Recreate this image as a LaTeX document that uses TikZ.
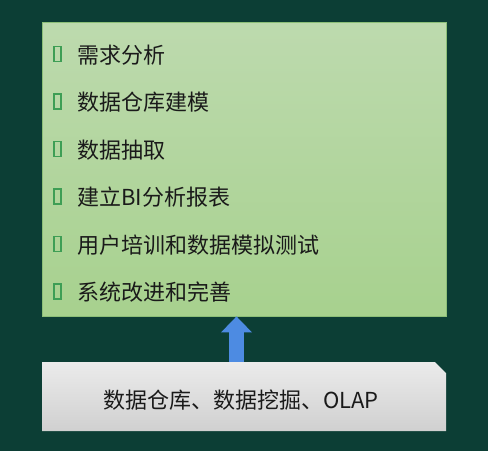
\documentclass[tikz,border=0pt]{standalone}
\usepackage{fontspec}
\setmainfont{Noto Sans CJK SC}
\usetikzlibrary{arrows.meta}
\definecolor{bgdark}{HTML}{0C3E35}
\definecolor{greentop}{HTML}{BDDAAE}
\definecolor{greenbot}{HTML}{A7D18E}
\definecolor{greenedge}{HTML}{8CBF78}
\definecolor{bulletgreen}{HTML}{3E9E55}
\definecolor{greytop}{HTML}{EBEBEB}
\definecolor{greybot}{HTML}{D0D0D0}
\definecolor{arrowblue}{HTML}{4D8BE2}
\definecolor{textdark}{HTML}{1A1A1A}
\begin{document}
\begin{tikzpicture}[x=1pt, y=-1pt,
  item/.style={anchor=west,inner sep=0pt,font=\fontsize{22}{26}\selectfont,text=textdark},
  bullet/.style={draw=bulletgreen,line width=1.2pt,minimum width=7pt,minimum height=15pt,inner sep=0pt},
  uparrow/.style={-{Triangle[width=30pt,length=16pt]},line width=15pt,arrowblue}]
\fill[bgdark] (0,0) rectangle (488,451);
\node [draw=greenedge,line width=0.8pt,top color=greentop,bottom color=greenbot,minimum width=404pt,minimum height=294pt,inner sep=0pt](steps) at (244,169) {};
% grey base box with the cut corner
\shade [top color=greytop,bottom color=greybot] (42,362) -- (435,362) -- (446,373) -- (446,431) -- (42,431) -- cycle;
\coordinate (base) at (244,362);
\begin{scope}[every node/.style={bullet}]
\node (b1) at (57.5,54) {};
\node (b2) at (57.5,101.5) {};
\node (b3) at (57.5,149) {};
\node (b4) at (57.5,196.5) {};
\node (b5) at (57.5,244) {};
\node (b6) at (57.5,291.5) {};
\end{scope}
\node [item](s1) at (77,55) {需求分析};
\node [item](s2) at (77,102.5) {数据仓库建模};
\node [item](s3) at (77,150) {数据抽取};
\node [item](s4) at (77,197.5) {建立BI分析报表};
\node [item](s5) at (77,245) {用户培训和数据模拟测试};
\node [item](s6) at (77,292.5) {系统改进和完善};
\node [item,anchor=center](baselabel) at (241,400) {数据仓库、数据挖掘、OLAP};
\coordinate (ax) at (236.5,0);
\draw [uparrow] (base -| ax) -- (steps.south -| ax);
\end{tikzpicture}
\end{document}
